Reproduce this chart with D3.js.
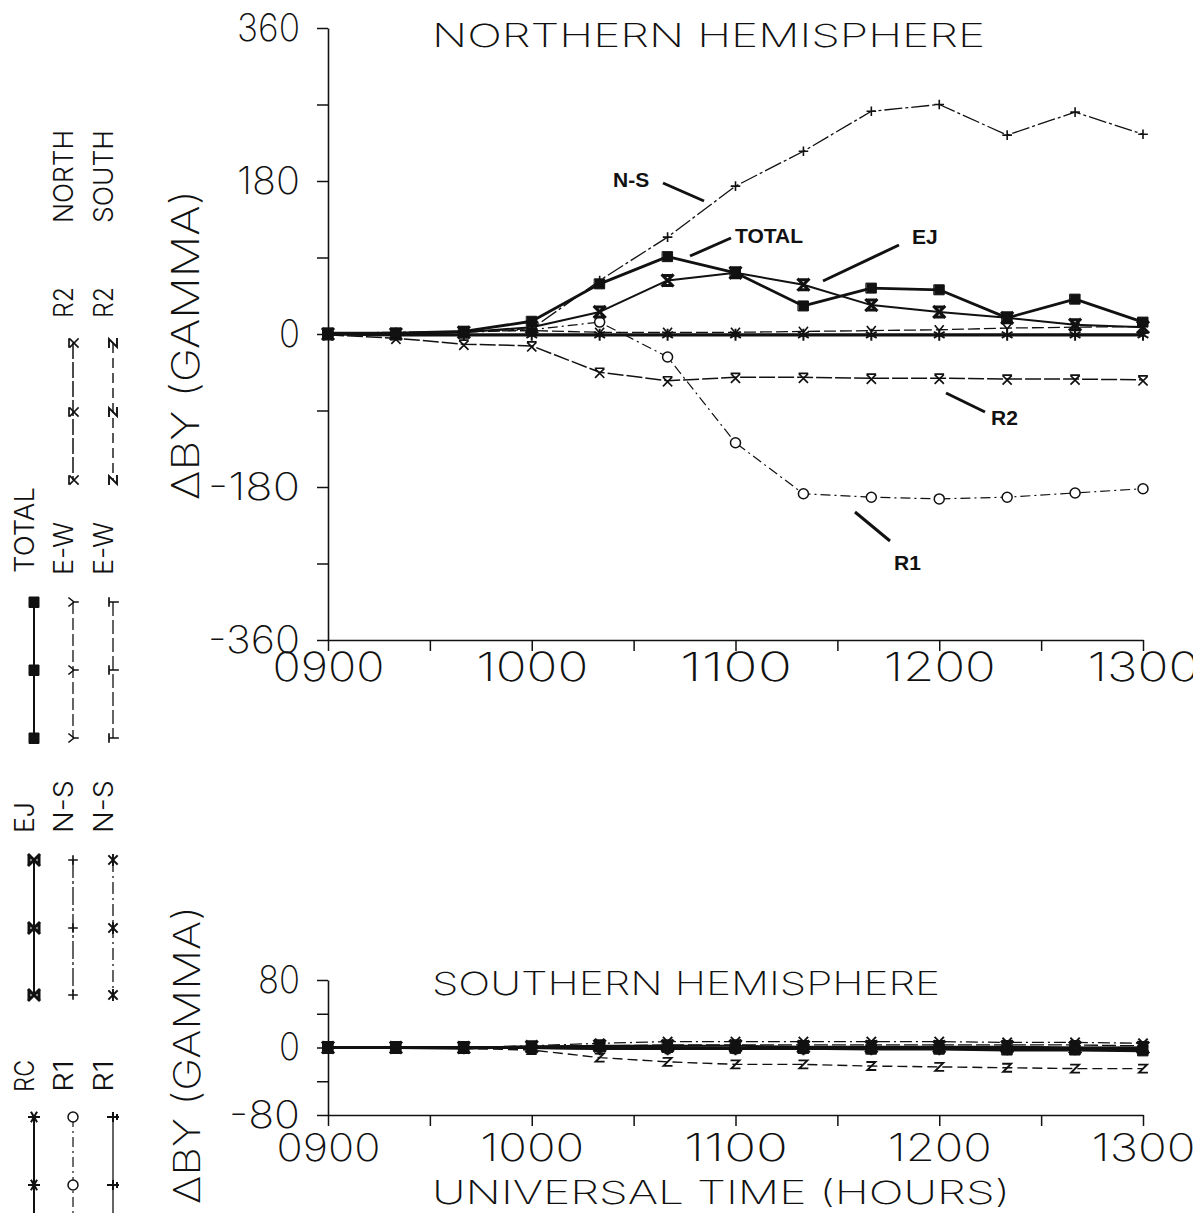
<!DOCTYPE html>
<html>
<head>
<meta charset="utf-8">
<script src="https://cdn.jsdelivr.net/npm/d3@7"></script>
<style>
  html, body { margin: 0; padding: 0; background: #fff; }
  svg { display: block; }
  .plot-text { font-family: "Inter", "DejaVu Sans", sans-serif; font-weight: 200; fill: #111; }
  .key-text { font-family: "Inter", "DejaVu Sans", sans-serif; font-weight: 300; fill: #111; }
  .note { font-family: "Liberation Sans", Arial, sans-serif; font-weight: 700; fill: #111; }
</style>
</head>
<body>
<svg id="chart" width="1193" height="1213"></svg>
<script>
// Sample times (UT), every 20 minutes from 0900 to 1300
const timeLabels = ["0900","0920","0940","1000","1020","1040","1100","1120","1140","1200","1220","1240","1300"];
const hourLabels = ["0900","1000","1100","1200","1300"];
const xTickMinutes = [0, 30, 60, 90, 120, 150, 180, 210, 240];

// Northern hemisphere, delta BY in gamma
const northTickValues = [-360, -270, -180, -90, 0, 90, 180, 270, 360];
const northTickLabels = [-360, -180, 0, 180, 360];
const northTotal = [1, 1, 3, 15, 59, 91, 72, 33, 54, 52, 19, 41, 14];
const northEJ    = [0, 0, 2, 8, 26, 63, 72, 58, 34, 26, 19, 11, 8];
const northRC    = [0, -1, -1, -1, -1, -1, -1, -1, -1, -1, -1, -1, -1];
const northNS    = [1, 2, 3, 6, 63, 114, 174, 215, 262, 270, 234, 261, 235];
const northEW    = [0, 1, 3, 4, 2, 2, 2, 3, 4, 5, 7, 8, 9];
const northR1    = [0, 0, 2, 5, 14, -27, -128, -188, -192, -194, -192, -187, -182];
const northR2    = [-1, -5, -12, -14, -45, -55, -51, -51, -52, -52, -53, -53, -54];

// Southern hemisphere, delta BY in gamma
const southTickValues = [-80, -40, 0, 40, 80];
const southTickLabels = [-80, 0, 80];
const southTotal = [0, 0, -1, 1, 1, 0, -1, -1, -2, -2, -3, -3, -4];
const southEJ    = [0, 0, 0, 1, 2, 2, 2, 1, 1, 1, 1, 0, 0];
const southRC    = [0, 0, 0, 0, -1, -1, -1, -1, -1, -1, -1, -1, -1];
const southNS    = [0, 0, 0, 2, 5, 7, 7, 7, 7, 7, 6, 6, 5];
const southEW    = [0, 0, 0, 0, 2, 3, 3, 3, 3, 3, 3, 3, 2];
const southR1    = [0, 0, -1, -1, -2, -2, -2, -2, -2, -2, -2, -2, -2];
const southR2    = [0, 0, -1, -3, -12, -17, -20, -20, -22, -23, -24, -25, -25];

// minutes after 0900 for each sample
const minutes = timeLabels.map(t => (+t.slice(0, 2) - 9) * 60 + (+t.slice(2)));

// marker glyphs, centred on the sample point
const markerShapes = {
  square: { d: "M-5,-5H5V5H-5Z", fill: true, w: 1 },
  bigx:   { d: "M-5,-5L5,5M5,-5L-5,5M-3,-5H3M-3,5H3", w: 3 },
  star:   { d: "M0,-5V5M-4.5,-2.6L4.5,2.6M4.5,-2.6L-4.5,2.6", w: 2 },
  plus:   { d: "M-4,0H4M0,-4V4", w: 1.6 },
  vee:    { d: "M-4,-4L0,1L4,-4M0,1V5", w: 1.6 },
  circle: { circle: 5, w: 1.5 },
  xbar:   { d: "M-4,-4H4M-4,-3L4,5M4,-3L-4,5", w: 1.7 },
  zed:    { d: "M-4,-4H4L-4,4H4", w: 1.9 },
  tee:    { d: "M-4,-4H4M0,-4V5", w: 1.7 },
  asterx: { d: "M-4,-4L4,4M4,-4L-4,4M-5,0H5", w: 1.9 },
  cross:  { d: "M-4,0H4M0,-5V5M-2,4H2", w: 2 }
};

const lineStyles = {
  total: { w: 2.8, dash: null, marker: "square" },
  ej:    { w: 2.0, dash: null, marker: "bigx" },
  rc:    { w: 3.2, dash: null, marker: "star" },
  nNS:   { w: 1.3, dash: "18,3,3,3", marker: "plus" },
  nEW:   { w: 1.3, dash: "12,4", marker: "vee" },
  nR1:   { w: 1.2, dash: "10,4,2,4", marker: "circle" },
  nR2:   { w: 1.5, dash: "16,3", marker: "xbar" },
  sNS:   { w: 1.3, dash: "12,4,2,4", marker: "asterx" },
  sEW:   { w: 1.3, dash: "14,4", marker: "tee" },
  sR1:   { w: 1.3, dash: null, marker: "cross" },
  sR2:   { w: 1.4, dash: "10,5", marker: "zed" }
};

const svg = d3.select("#chart");

function drawMarker(g, type, x, y, rot) {
  const m = markerShapes[type];
  const t = `translate(${x},${y})` + (rot ? ` rotate(${rot})` : "");
  if (m.circle) {
    g.append("circle").attr("transform", t).attr("r", m.circle)
      .attr("fill", "#fff").attr("stroke", "#111").attr("stroke-width", m.w);
  } else {
    g.append("path").attr("transform", t).attr("d", m.d)
      .attr("fill", m.fill ? "#111" : "none").attr("stroke", "#111")
      .attr("stroke-width", m.w).attr("stroke-linecap", "square");
  }
}

function drawSeries(g, x, y, series) {
  const line = d3.line().x((d, i) => x(minutes[i])).y(d => y(d));
  series.forEach(s => {
    const st = lineStyles[s.style];
    g.append("path").attr("d", line(s.values))
      .attr("fill", "none").attr("stroke", "#111")
      .attr("stroke-width", st.w)
      .attr("stroke-dasharray", st.dash)
      .attr("stroke-linejoin", "round");
  });
  series.forEach(s => {
    const st = lineStyles[s.style];
    s.values.forEach((v, i) => drawMarker(g, st.marker, x(minutes[i]), y(v)));
  });
}

// narrow plotter-like numerals: each digit ~21px, a leading minus ~29px
function numeralWidth(str) {
  const neg = str.startsWith("-");
  return (str.length - (neg ? 1 : 0)) * 21 + (neg ? 29 : 0);
}

function styleAxis(sel, fontSize) {
  sel.select(".domain").attr("stroke", "#111").attr("stroke-width", 1.6);
  sel.selectAll(".tick line").attr("stroke", "#111").attr("stroke-width", 1.5);
  sel.selectAll(".tick text").attr("class", "plot-text")
    .attr("font-size", fontSize).attr("fill", "#111");
}

function narrowLabels(sel, fixedLen) {
  sel.selectAll(".tick text").filter(function () { return this.textContent !== ""; })
    .attr("textLength", function () { return fixedLen || numeralWidth(this.textContent); })
    .attr("lengthAdjust", "spacingAndGlyphs");
}

// ---------- Northern hemisphere panel ----------
const xN = d3.scaleLinear().domain([0, 240]).range([328, 1143]);
const yN = d3.scaleLinear().domain([-360, 360]).range([640, 28]);

const gN = svg.append("g");
gN.append("g").attr("transform", "translate(328,0)")
  .call(d3.axisLeft(yN).tickValues(northTickValues).tickSize(11).tickPadding(17).tickSizeOuter(0)
    .tickFormat(v => northTickLabels.includes(v) ? String(v) : ""))
  .call(sel => styleAxis(sel, 38))
  .call(sel => narrowLabels(sel));
gN.append("g").attr("transform", "translate(0,640)")
  .call(d3.axisBottom(xN).tickValues(xTickMinutes).tickSize(11).tickPadding(2).tickSizeOuter(0)
    .tickFormat(m => m % 60 === 0 ? hourLabels[m / 60] : ""))
  .call(sel => styleAxis(sel, 40))
  .call(sel => narrowLabels(sel, 112));

drawSeries(gN, xN, yN, [
  { values: northR1, style: "nR1" },
  { values: northR2, style: "nR2" },
  { values: northEW, style: "nEW" },
  { values: northNS, style: "nNS" },
  { values: northRC, style: "rc" },
  { values: northEJ, style: "ej" },
  { values: northTotal, style: "total" }
]);

gN.append("text").attr("class", "plot-text").attr("x", 432).attr("y", 47)
  .attr("font-size", 32).attr("textLength", 553).attr("lengthAdjust", "spacingAndGlyphs")
  .text("NORTHERN HEMISPHERE");
gN.append("text").attr("class", "plot-text")
  .attr("transform", "translate(199,345) rotate(-90)")
  .attr("text-anchor", "middle").attr("font-size", 38)
  .attr("textLength", 310).attr("lengthAdjust", "spacingAndGlyphs")
  .text("\u0394BY (GAMMA)");

// curve labels with leader strokes
const notes = [
  { text: "N-S",   tx: 613, ty: 187, x1: 663, y1: 183, x2: 704, y2: 201 },
  { text: "TOTAL", tx: 735, ty: 243, x1: 690, y1: 256, x2: 731, y2: 238 },
  { text: "EJ",    tx: 912, ty: 244, x1: 899, y1: 245, x2: 823, y2: 281 },
  { text: "R2",    tx: 991, ty: 425, x1: 946, y1: 393, x2: 985, y2: 412 },
  { text: "R1",    tx: 894, ty: 570, x1: 855, y1: 512, x2: 890, y2: 541 }
];
notes.forEach(n => {
  gN.append("line").attr("x1", n.x1).attr("y1", n.y1).attr("x2", n.x2).attr("y2", n.y2)
    .attr("stroke", "#111").attr("stroke-width", 3);
  gN.append("text").attr("class", "note").attr("x", n.tx).attr("y", n.ty)
    .attr("font-size", 21).text(n.text);
});

// ---------- Southern hemisphere panel ----------
const xS = d3.scaleLinear().domain([0, 240]).range([328, 1143]);
const yS = d3.scaleLinear().domain([-80, 80]).range([1115, 980]);

const gS = svg.append("g");
gS.append("g").attr("transform", "translate(328,0)")
  .call(d3.axisLeft(yS).tickValues(southTickValues).tickSize(11).tickPadding(17).tickSizeOuter(0)
    .tickFormat(v => southTickLabels.includes(v) ? String(v) : ""))
  .call(sel => styleAxis(sel, 38))
  .call(sel => narrowLabels(sel));
gS.append("g").attr("transform", "translate(0,1115)")
  .call(d3.axisBottom(xS).tickValues(xTickMinutes).tickSize(11).tickPadding(8).tickSizeOuter(0)
    .tickFormat(m => m % 60 === 0 ? hourLabels[m / 60] : ""))
  .call(sel => styleAxis(sel, 38))
  .call(sel => narrowLabels(sel, 104));

drawSeries(gS, xS, yS, [
  { values: southR2, style: "sR2" },
  { values: southNS, style: "sNS" },
  { values: southEW, style: "sEW" },
  { values: southR1, style: "sR1" },
  { values: southRC, style: "rc" },
  { values: southEJ, style: "ej" },
  { values: southTotal, style: "total" }
]);

gS.append("text").attr("class", "plot-text").attr("x", 432).attr("y", 995)
  .attr("font-size", 32).attr("textLength", 508).attr("lengthAdjust", "spacingAndGlyphs")
  .text("SOUTHERN HEMISPHERE");
gS.append("text").attr("class", "plot-text").attr("x", 432).attr("y", 1204)
  .attr("font-size", 32).attr("textLength", 578).attr("lengthAdjust", "spacingAndGlyphs")
  .text("UNIVERSAL TIME (HOURS)");
gS.append("text").attr("class", "plot-text")
  .attr("transform", "translate(200,1055) rotate(-90)")
  .attr("text-anchor", "middle").attr("font-size", 37)
  .attr("textLength", 298).attr("lengthAdjust", "spacingAndGlyphs")
  .text("\u0394BY (GAMMA)");

// ---------- Key (drawn turned a quarter turn) ----------
// columns give the screen x of each key line; rows give the screen y where the label ends
const keyColumns = [34, 73, 113];
const keyEntries = [
  { col: 1, label: "NORTH", end: 223, len: 93 },
  { col: 2, label: "SOUTH", end: 223, len: 93 },
  { col: 1, label: "R2", end: 318, len: 31, style: "nR2", marks: [343, 412, 480] },
  { col: 2, label: "R2", end: 318, len: 31, style: "sR2", marks: [343, 412, 480] },
  { col: 0, label: "TOTAL", end: 573, len: 86, style: "total", marks: [602, 670, 738] },
  { col: 1, label: "E-W", end: 575, len: 53, style: "nEW", marks: [602, 670, 738] },
  { col: 2, label: "E-W", end: 575, len: 53, style: "sEW", marks: [602, 670, 738] },
  { col: 0, label: "EJ", end: 833, len: 31, style: "ej", marks: [860, 928, 995] },
  { col: 1, label: "N-S", end: 833, len: 53, style: "nNS", marks: [860, 928, 995] },
  { col: 2, label: "N-S", end: 833, len: 53, style: "sNS", marks: [860, 928, 995] },
  { col: 0, label: "RC", end: 1092, len: 32, style: "rc", marks: [1117, 1185, 1253] },
  { col: 1, label: "R1", end: 1092, len: 32, style: "nR1", marks: [1117, 1185, 1253] },
  { col: 2, label: "R1", end: 1092, len: 32, style: "sR1", marks: [1117, 1185, 1253] }
];
const gK = svg.append("g");
keyEntries.forEach(e => {
  const cx = keyColumns[e.col];
  gK.append("text").attr("class", "key-text")
    .attr("transform", `translate(${cx},${e.end}) rotate(-90)`)
    .attr("font-size", 27).attr("textLength", e.len).attr("lengthAdjust", "spacingAndGlyphs")
    .text(e.label);
  if (e.style) {
    const st = lineStyles[e.style];
    gK.append("line").attr("x1", cx).attr("x2", cx)
      .attr("y1", e.marks[0]).attr("y2", e.marks[e.marks.length - 1])
      .attr("stroke", "#111").attr("stroke-width", Math.min(st.w, 2))
      .attr("stroke-dasharray", st.dash);
    e.marks.forEach(my => drawMarker(gK, st.marker, cx, my, -90));
  }
});
</script>
</body>
</html>
